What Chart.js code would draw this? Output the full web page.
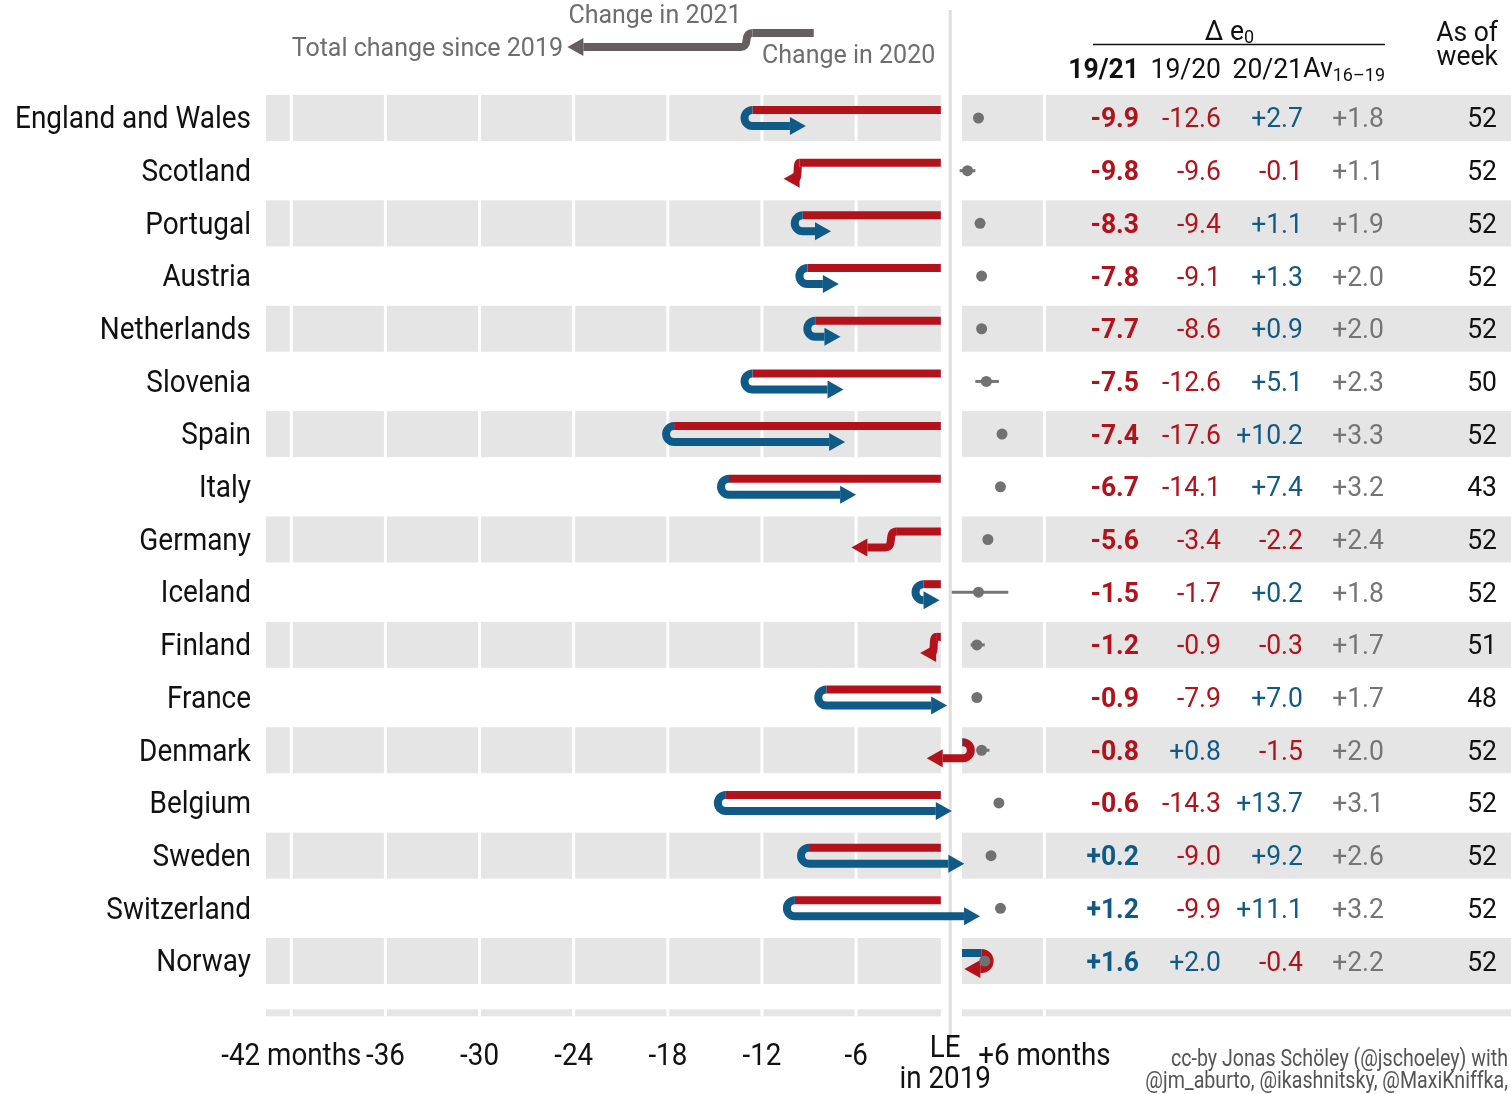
<!DOCTYPE html>
<html lang="en">
<head>
<meta charset="UTF-8" />
<title>Life expectancy change 2019-2021</title>
<script src="https://cdn.jsdelivr.net/npm/chart.js@4"></script>
<style>
  html, body { margin: 0; padding: 0; background: #fff; }
  canvas { display: block; }
</style>
</head>
<body>
<canvas id="leChart" width="1511" height="1094"></canvas>
<script>
// data (months of life expectancy)
const countries = ["England and Wales", "Scotland", "Portugal", "Austria", "Netherlands", "Slovenia", "Spain",
  "Italy", "Germany", "Iceland", "Finland", "France", "Denmark", "Belgium", "Sweden", "Switzerland", "Norway"];
const chg1921 = [-9.9, -9.8, -8.3, -7.8, -7.7, -7.5, -7.4, -6.7, -5.6, -1.5, -1.2, -0.9, -0.8, -0.6, 0.2, 1.2, 1.6];
const chg1920 = [-12.6, -9.6, -9.4, -9.1, -8.6, -12.6, -17.6, -14.1, -3.4, -1.7, -0.9, -7.9, 0.8, -14.3, -9.0, -9.9, 2.0];
const chg2021 = [2.7, -0.1, 1.1, 1.3, 0.9, 5.1, 10.2, 7.4, -2.2, 0.2, -0.3, 7.0, -1.5, 13.7, 9.2, 11.1, -0.4];
const avg1619 = [1.8, 1.1, 1.9, 2.0, 2.0, 2.3, 3.3, 3.2, 2.4, 1.8, 1.7, 1.7, 2.0, 3.1, 2.6, 3.2, 2.2];
const avgLow = [1.8, 0.6, 1.9, 2.0, 2.0, 1.6, 3.3, 3.2, 2.4, 0.1, 1.3, 1.7, 1.7, 3.1, 2.6, 3.2, 2.0];
const avgHigh = [1.8, 1.6, 1.9, 2.0, 2.0, 3.1, 3.3, 3.2, 2.4, 3.7, 2.2, 1.7, 2.5, 3.1, 2.6, 3.2, 2.7];
const asOfWeek = [52, 52, 52, 52, 52, 50, 52, 43, 52, 52, 51, 48, 52, 52, 52, 52, 52];

const xTicks = [-42, -36, -30, -24, -18, -12, -6, 0, 6];
const xTickLabels = ["-42 months", "-36", "-30", "-24", "-18", "-12", "-6", ["LE", "in 2019"], "+6 months"];

// legend arrow, in months
const legendFrom = -8.7, legendTurn = -12.6, legendTo = -23.7;

const RED = "#b3121b";
const BLUE = "#0f5a87";
const BAND = "#e5e5e5";
const GREY = "#757575";

const X_MIN = -43.61, X_MAX = 35.74;
const GAP_L = -0.6, GAP_R = 0.75;
const TEXT_DY = 2.5; // roboto sits a bit high with 'middle'

const ctx = document.getElementById("leChart").getContext("2d");

function fitK(str, font, target) {
  ctx.save();
  ctx.font = font;
  const w = ctx.measureText(str).width;
  ctx.restore();
  return target / w;
}
const K_LAB = fitK("England and Wales", "400 31px Roboto", 236);
const K_AX = fitK("-42 months", "400 31px Roboto", 140);
const K_TAB = fitK("-12.6", "400 28px Roboto", 59);
const K_FOOT = fitK("cc-by Jonas Schöley (@jschoeley) with", "400 23px Roboto", 337);

function txt(c, s, x, y, font, color, align, k) {
  c.save();
  c.font = font;
  c.fillStyle = color;
  c.textAlign = align;
  c.textBaseline = "middle";
  c.translate(x, y + TEXT_DY);
  c.scale(k || 1, 1);
  c.fillText(s, 0, 0);
  const w = c.measureText(s).width * (k || 1);
  c.restore();
  return w;
}

function fmt(v) {
  return (v > 0 ? "+" : v < 0 ? "-" : "") + Math.abs(v).toFixed(1);
}

// 2020 segment on the upper lane, turn, 2021 segment with arrowhead on the lower lane
function drawArrow(c, xs, from, turn, to, yc, half, c1, c2) {
  const x0 = xs.getPixelForValue(from);
  const x1 = xs.getPixelForValue(turn);
  const x2 = xs.getPixelForValue(to);
  const yT = yc - half, yB = yc + half;
  const d1 = turn < from ? -1 : 1;
  const d2 = to < turn ? -1 : 1;
  c.lineWidth = 8;
  c.lineCap = "butt";
  c.lineJoin = "round";
  c.strokeStyle = c1;
  c.beginPath();
  c.moveTo(x0, yT);
  c.lineTo(x1, yT);
  c.stroke();

  c.strokeStyle = c2;
  c.fillStyle = c2;
  c.beginPath();
  c.moveTo(x1, yT);
  let xc;
  if (d2 !== d1) {
    c.arc(x1, yc, half, -Math.PI / 2, Math.PI / 2, d1 < 0);
    xc = x1;
  } else {
    const sw = Math.min(12, Math.max(4, Math.abs(x2 - x1)));
    xc = x1 + d1 * sw;
    c.bezierCurveTo(x1 + d1 * sw * 0.9, yT, x1 + d1 * sw * 0.1, yB, xc, yB);
  }
  let base = x2 + d2 * 11 - d2 * 16;
  base = d2 < 0 ? Math.min(base, x1) : Math.max(base, x1);
  const tip = base + d2 * 16;
  if ((base - xc) * d2 > 0) c.lineTo(base, yB);
  c.stroke();
  c.beginPath();
  c.moveTo(base, yB - 9);
  c.lineTo(tip, yB);
  c.lineTo(base, yB + 9);
  c.closePath();
  c.fill();
}

const backdrop = {
  id: "backdrop",
  beforeDatasetsDraw(chart) {
    const c = chart.ctx, a = chart.chartArea;
    const x = chart.scales.x, y = chart.scales.y;
    const gl = x.getPixelForValue(GAP_L), gr = x.getPixelForValue(GAP_R);
    const rowH = Math.abs(y.getPixelForValue(1) - y.getPixelForValue(0));
    const bh = rowH * 0.873;
    c.save();
    c.fillStyle = BAND;
    countries.forEach((name, i) => {
      if (i % 2) return;
      const yc = y.getPixelForValue(i);
      c.fillRect(a.left, yc - bh / 2, gl - a.left, bh);
      c.fillRect(gr, yc - bh / 2, a.right - gr, bh);
    });
    const ys = a.bottom + 22;
    c.fillRect(a.left, ys, gl - a.left, 7);
    c.fillRect(gr, ys, a.right - gr, 7);
    c.fillStyle = "#fff";
    xTicks.forEach((t) => {
      if (t === 0) return;
      const px = x.getPixelForValue(t);
      c.fillRect(px - 1.5, a.top, 3, ys + 7 - a.top);
    });
    c.fillStyle = "#dedede";
    c.fillRect(x.getPixelForValue(0) - 1.5, 10, 3, 1030);

    // range of yearly change 2016-19
    c.strokeStyle = GREY;
    c.lineWidth = 3;
    countries.forEach((name, i) => {
      if (avgHigh[i] - avgLow[i] < 0.05) return;
      const yc = y.getPixelForValue(i);
      c.beginPath();
      c.moveTo(x.getPixelForValue(avgLow[i]), yc);
      c.lineTo(x.getPixelForValue(avgHigh[i]), yc);
      c.stroke();
    });

    countries.forEach((name, i) => {
      const from = chg1920[i] < 0 ? GAP_L : GAP_R;
      drawArrow(c, x, from, chg1920[i], chg1921[i], y.getPixelForValue(i), 8,
        chg1920[i] < 0 ? RED : BLUE, chg2021[i] < 0 ? RED : BLUE);
    });

    // legend arrow
    drawArrow(c, x, legendFrom, legendTurn, legendTo, 40, 7, "#665e5e", "#665e5e");
    c.restore();
  },
  afterDraw(chart) {
    const c = chart.ctx;
    const x = chart.scales.x, y = chart.scales.y;
    const fLab = "400 31px Roboto";
    const fTab = "400 28px Roboto";
    const fTabB = "700 28px Roboto";

    countries.forEach((name, i) => {
      const yc = y.getPixelForValue(i);
      txt(c, name, 251, yc, fLab, "#111", "right", K_LAB);
      const tot = chg1921[i];
      txt(c, fmt(tot), 1139, yc, fTabB, tot < 0 ? RED : BLUE, "right", K_TAB);
      txt(c, fmt(chg1920[i]), 1221, yc, fTab, chg1920[i] < 0 ? RED : BLUE, "right", K_TAB);
      txt(c, fmt(chg2021[i]), 1303, yc, fTab, chg2021[i] < 0 ? RED : BLUE, "right", K_TAB);
      txt(c, fmt(avg1619[i]), 1384, yc, fTab, GREY, "right", K_TAB);
      txt(c, String(asOfWeek[i]), 1497, yc, fTab, "#111", "right", K_TAB);
    });

    // x axis labels
    xTicks.forEach((t, i) => {
      const px = x.getPixelForValue(t);
      const lab = xTickLabels[i];
      if (Array.isArray(lab)) {
        txt(c, lab[0], px - 5, 1047, "400 31px Roboto", "#111", "center", K_AX);
        txt(c, lab[1], px - 5, 1078, "400 31px Roboto", "#111", "center", K_AX);
      } else {
        txt(c, lab, px, 1055, "400 31px Roboto", "#111", "center", K_AX);
      }
    });

    // table header
    txt(c, "19/21", 1139, 68, fTabB, "#111", "right", K_TAB);
    txt(c, "19/20", 1221, 68, fTab, "#111", "right", K_TAB);
    txt(c, "20/21", 1303, 68, fTab, "#111", "right", K_TAB);
    const ws = txt(c, "16\u201319", 1385, 74, "400 19px Roboto", "#111", "right", K_TAB);
    txt(c, "Av", 1385 - ws, 67, fTab, "#111", "right", K_TAB);
    txt(c, "\u0394 e", 1244, 30, fTab, "#111", "right", K_TAB);
    txt(c, "0", 1244, 36, "400 19px Roboto", "#111", "left", K_TAB);
    c.save();
    c.strokeStyle = "#111";
    c.lineWidth = 1.5;
    c.beginPath();
    c.moveTo(1093, 44.5);
    c.lineTo(1385, 44.5);
    c.stroke();
    c.restore();
    txt(c, "As of", 1498, 31, fTab, "#111", "right", K_TAB);
    txt(c, "week", 1498, 55, fTab, "#111", "right", K_TAB);

    // legend text
    txt(c, "Change in 2021", 655, 14, "400 25px Roboto", "#6e6e6e", "center", 1);
    txt(c, "Total change since 2019", 563, 47, "400 25px Roboto", "#6e6e6e", "right", 1);
    txt(c, "Change in 2020", 762, 54, "400 25px Roboto", "#6e6e6e", "left", 1);

    // credits
    txt(c, "cc-by Jonas Schöley (@jschoeley) with", 1508, 1058, "400 23px Roboto", "#555", "right", K_FOOT);
    txt(c, "@jm_aburto, @ikashnitsky, @MaxiKniffka,", 1508, 1080, "400 23px Roboto", "#555", "right", K_FOOT);
  }
};

new Chart(ctx, {
  type: "scatter",
  data: {
    datasets: [
      {
        label: "Av. yearly change 2016-19",
        data: avg1619.map((v, i) => ({ x: v, y: i })),
        backgroundColor: "#717171",
        borderWidth: 0,
        pointRadius: 5.5,
        pointHoverRadius: 5.5,
      },
    ],
  },
  options: {
    responsive: false,
    animation: false,
    events: [],
    layout: { autoPadding: false, padding: { top: 91.65, left: 0, right: 0, bottom: 0 } },
    plugins: { legend: { display: false }, tooltip: { enabled: false } },
    scales: {
      x: {
        type: "linear",
        min: X_MIN,
        max: X_MAX,
        grid: { display: false },
        border: { display: false },
        ticks: { display: false },
        afterFit(s) { s.height = 1094 - 987.35; },
      },
      y: {
        type: "linear",
        reverse: true,
        min: -0.5,
        max: 16.5,
        grid: { display: false },
        border: { display: false },
        ticks: { display: false },
        afterFit(s) { s.width = 266; },
      },
    },
  },
  plugins: [backdrop],
});
</script>
</body>
</html>
